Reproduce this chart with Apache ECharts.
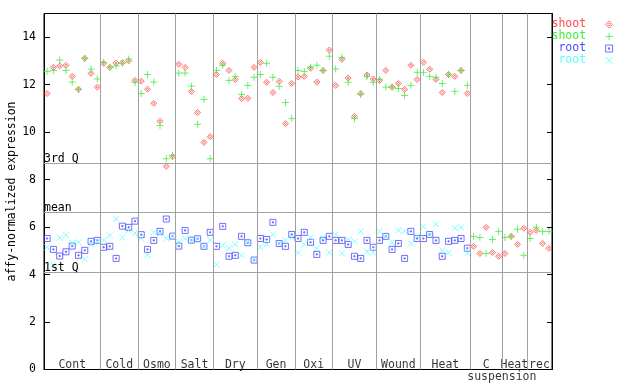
<!DOCTYPE html>
<html><head><meta charset="utf-8">
<script src="https://cdn.jsdelivr.net/npm/echarts@6/dist/echarts.min.js"></script>
<style>html,body{margin:0;padding:0;background:#fff}#c{width:640px;height:384px}</style>
</head><body><div id="c"></div>
<script>
// ---- data ----
const groupLabels = ['Cont','Cold','Osmo','Salt','Dry','Gen','Oxi','UV','Wound','Heat','C','Heat','rec'];
const groupSizes  = [9,6,6,6,7,6,6,7,7,8,5,4,4];
const subLabel = {group: 10, text: 'suspension'};

const shootRep1 = [
 11.63,12.73,12.79,12.82,12.35,11.81,13.11,12.48,11.90,
 12.90,12.73,12.91,12.93,13.00,12.18,
 12.15,11.81,11.22,10.46,8.56,8.97,
 12.86,12.73,11.72,10.83,9.57,9.81,
 12.43,12.90,12.60,12.22,11.42,11.43,12.73,
 12.94,12.10,11.67,12.14,10.36,12.05,
 12.32,12.35,12.69,12.11,12.60,13.46,
 11.97,13.07,12.28,10.66,11.63,12.41,12.24,
 12.18,12.60,11.90,12.05,11.80,12.82,12.22,
 12.94,12.65,12.22,11.67,12.43,12.35,12.60,11.63,
 5.19,4.89,5.99,4.93,4.77,
 4.89,5.61,5.27,5.95,
 5.78,5.86,5.31,5.11];
const shootRep2 = [
 12.56,12.60,13.04,12.60,12.11,11.80,13.11,12.66,12.24,
 12.94,12.74,12.79,12.90,13.08,12.10,
 11.63,12.43,12.11,10.28,8.88,9.02,
 12.49,12.49,11.94,10.33,11.38,8.88,
 12.60,12.82,12.18,12.35,11.59,11.97,12.31,
 12.43,12.90,12.31,11.93,11.25,10.57,
 12.60,12.56,12.74,12.82,12.60,13.20,
 12.66,13.15,12.10,10.57,11.59,12.35,12.10,
 12.22,11.90,11.90,11.84,11.55,11.97,12.52,
 12.52,12.35,12.31,12.05,12.43,11.72,12.60,11.97,
 5.61,5.56,4.89,5.48,5.82,
 5.56,5.61,5.91,4.81,
 5.52,5.99,5.82,5.82];
const rootRep1 = [
 5.52,5.06,4.78,4.96,5.20,4.81,5.02,5.40,5.44,
 5.15,5.19,4.68,6.04,5.99,6.25,
 5.68,5.06,5.44,5.82,6.34,5.62,
 5.20,5.86,5.45,5.51,5.19,5.78,
 5.19,6.03,4.77,4.81,5.61,5.34,4.61,
 5.52,5.48,6.20,5.31,5.19,5.69,
 5.52,5.78,5.36,4.85,5.44,5.61,
 5.44,5.44,5.27,4.77,4.68,5.44,5.15,
 5.44,5.61,5.06,5.31,4.68,5.82,5.52,
 5.52,5.69,5.44,4.77,5.40,5.44,5.52,5.11];
const rootRep2 = [
 5.15,4.40,5.55,5.66,5.33,5.36,4.65,5.27,5.40,
 5.45,5.65,6.34,5.56,5.86,5.74,
 5.52,4.82,5.78,5.71,5.53,5.62,
 5.37,5.52,5.45,5.51,5.19,5.45,
 4.43,5.23,5.11,5.27,4.81,5.36,4.64,
 5.15,5.27,5.69,5.31,5.44,5.56,
 4.93,5.27,5.56,5.11,5.56,4.93,
 5.69,4.89,5.48,5.40,5.82,4.97,4.93,
 5.82,5.61,5.36,5.86,5.82,5.31,5.61,
 6.03,5.69,6.12,5.02,4.93,5.95,5.99,4.89];
const quartileValues = [8.69, 6.62, 4.09];
const quartileNames  = ['3rd Q','mean','1st Q'];
const yMin = 0, yMax = 15, yStep = 2;
const yTitle = 'affy-normalized expression';

// ---- build ----
const FONT = '"DejaVu Sans Mono", monospace';
const FS = 11.5;
const nSamples = groupSizes.reduce((a,b)=>a+b,0);
const bounds = []; let acc = 0;
groupSizes.forEach(s => { bounds.push([acc, acc + s]); acc += s; });

const SYM = {
  diamond: 'path://M2.5,0L5,2.5L2.5,5L0,2.5Z M2.5,1.5L3.5,2.5L2.5,3.5L1.5,2.5Z',
  plus: 'path://M2.5,0L2.5,5M0,2.5L5,2.5',
  square: 'path://M0,0L5,0L5,5L0,5Z M2,2L3,2L3,3L2,3Z',
  cross: 'path://M0,0L5,5M5,0L0,5'
};
const defs = [
  {id:'s1', label:'shoot', data: shootRep1, sym: SYM.diamond, color:'#ff4d4d', size:6},
  {id:'s2', label:'shoot', data: shootRep2, sym: SYM.plus, color:'#44ee44', size:7},
  {id:'r1', label:' root', data: rootRep1, sym: SYM.square, color:'#4d4dff', size:6},
  {id:'r2', label:' root', data: rootRep2, sym: SYM.cross, color:'#55ffff', size:6}
];

const series = defs.map(d => ({
  type:'scatter', name:d.id,
  data: d.data.map((v,i)=>[i+0.5, v]).filter(p => p[1] != null),
  symbol: d.sym, symbolSize: d.size, symbolKeepAspect: true,
  itemStyle: {color:'transparent', borderColor: d.color, borderWidth: 1},
  emphasis: {disabled: true}, z: 3, animation: false
}));

const labelData = groupLabels.map((t,g)=>({name:t, value:[(bounds[g][0]+bounds[g][1])/2, 0.21]}));
labelData.push({name: subLabel.text, value:[bounds[subLabel.group][1], -0.33]});

series.push({
  type:'scatter', name:'labels', data: labelData, symbolSize: 0, clip: false, z: 1,
  silent: true, animation: false,
  label: {show: true, position: 'inside', formatter: '{b}', color:'#000', fontFamily: FONT, fontSize: FS},
  markLine: {
    silent: true, symbol: 'none', animation: false,
    lineStyle: {color:'#a0a0a0', width: 1, type:'solid'},
    data: [
      ...quartileValues.map((v,i)=>({yAxis: v, name: quartileNames[i],
        label:{show:true, position:'insideStartTop', formatter:'{b}', color:'#000', fontFamily: FONT, fontSize: FS, distance:[0, -2]}})),
      ...bounds.slice(1).map(b=>({xAxis: b[0], label:{show:false}}))
    ]
  }
});

const chart = echarts.init(document.getElementById('c'), null, {renderer:'canvas'});
chart.setOption({
  animation: false,
  grid: {left: 44, right: 88, top: 13.5, bottom: 14.5, show: true, borderColor:'#000', borderWidth: 1,
         containLabel: false, outerBoundsMode: 'none'},
  xAxis: {type:'value', min: 0, max: nSamples, axisLine:{show:true, lineStyle:{color:'#000'}},
    axisTick:{show:false}, axisLabel:{show:false}, splitLine:{show:false}},
  yAxis: [
    {type:'value', min:yMin, max:yMax, interval:yStep, position:'left',
     name: yTitle, nameLocation:'middle', nameGap: 26, nameMoveOverlap: false,
     nameTextStyle:{color:'#000', fontFamily: FONT, fontSize: FS},
     axisLine:{show:true, lineStyle:{color:'#000'}},
     axisTick:{show:true, inside:true, length:6, lineStyle:{color:'#000'}},
     axisLabel:{color:'#000', fontFamily: FONT, fontSize: FS, margin: 8, showMaxLabel: false},
     splitLine:{show:false}},
    {type:'value', min:yMin, max:yMax, interval:yStep, position:'right',
     axisLine:{show:true, lineStyle:{color:'#000'}},
     axisTick:{show:true, inside:true, length:5, lineStyle:{color:'#000'}},
     axisLabel:{show:false}, splitLine:{show:false}}
  ],
  legend: {
    orient:'vertical', left: 551.5, top: 18.5, padding: 0, align:'right',
    itemWidth: 36, itemHeight: 7, itemGap: 0, selectedMode: false,
    itemStyle: {borderWidth: 1},
    textStyle: {fontFamily: FONT, fontSize: FS, lineHeight: 11},
    formatter: n => defs.find(d=>d.id===n).label,
    data: defs.map(d=>({name: d.id, icon: d.sym, textStyle:{color: d.color}}))
  },
  series
});
</script></body></html>
